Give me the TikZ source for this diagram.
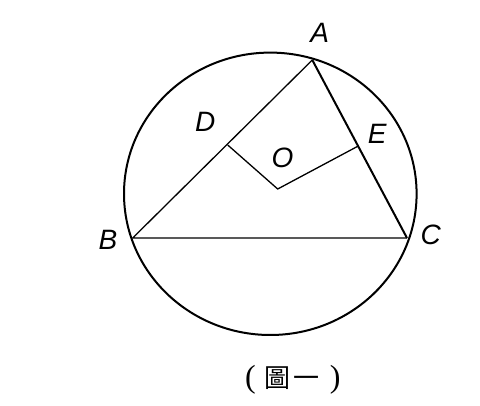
\documentclass[tikz,border=0pt]{standalone}
\usepackage{fontspec}
\setmainfont{Liberation Sans}
\newfontfamily\cjk{Noto Sans CJK TC}
\newfontfamily\serifparen{Liberation Serif}
\begin{document}
\begin{tikzpicture}[x=1pt,y=-1pt,
  lbl/.style={font=\fontsize{28}{28}\selectfont\itshape, inner sep=0pt},
  thin line/.style={line width=1.3pt},
  thick line/.style={line width=2pt}]
\useasboundingbox (0,0) rectangle (480,406);
\coordinate (A) at (312.3,60);
\coordinate (B) at (132.7,238);
\coordinate (C) at (407,238);
\coordinate (D) at (227.7,145);
\coordinate (E) at (358.3,146);
\coordinate (O) at (277.7,189);
\coordinate (Ctr) at (270.3,193.8);
\draw[thick line] (Ctr) ellipse [x radius=146.3pt, y radius=141.2pt];
\draw[thin line] (A) -- (B) -- (C);
\draw[thick line] (A) -- (C);
\draw[thin line] (D) -- (O) -- (E);
\node[lbl] (lA) at (319.7,32.8) {A};
\node[lbl] (lB) at (108,240) {B};
\node[lbl] (lC) at (430.8,235) {C};
\node[lbl] (lD) at (205.3,122) {D};
\node[lbl] (lE) at (377.3,133.8) {E};
\node[lbl] (lO) at (282.5,158.3) {O};
\node[inner sep=0pt, anchor=base west] (cap) at (245,388)
  {{\serifparen\fontsize{32}{32}\selectfont(}\hspace{9pt}{\cjk\fontsize{26}{26}\selectfont 圖\hspace{3pt}一}\hspace{10pt}{\serifparen\fontsize{32}{32}\selectfont)}};
\end{tikzpicture}
\end{document}
